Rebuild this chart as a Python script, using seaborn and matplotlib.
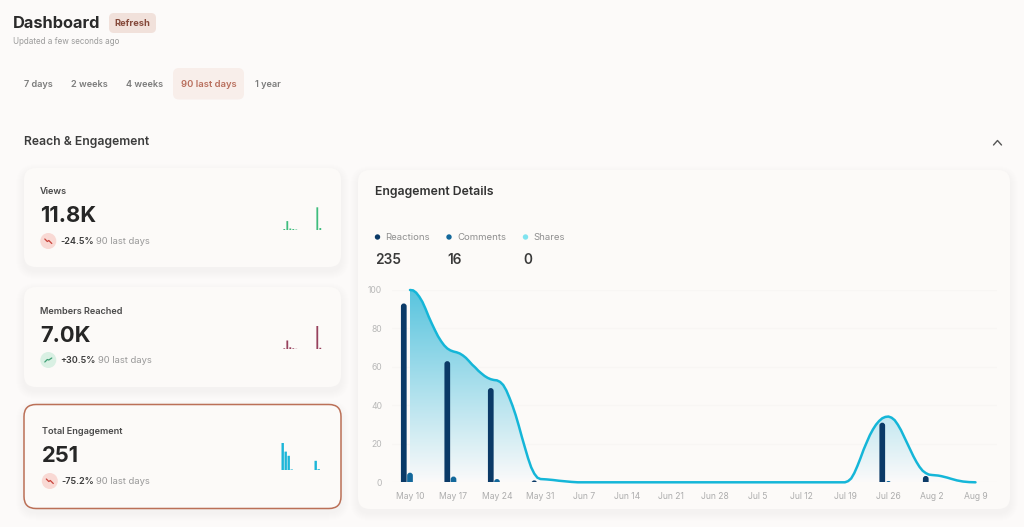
import numpy as np
import pandas as pd
import matplotlib
matplotlib.use('Agg')
import matplotlib.pyplot as plt
import seaborn as sns
from matplotlib.colors import LinearSegmentedColormap
from matplotlib.patches import Circle, FancyBboxPatch

# data
line_days = [0, 0.5, 1, 1.5, 2, 2.5, 3, 3.5, 4, 4.5, 5, 5.5, 6, 6.5, 7, 7.5, 8, 8.5, 9, 9.5, 10, 10.5, 11, 11.5,
             12, 12.5, 13, 13.5, 14, 14.5, 15, 15.5, 16, 16.5, 17, 17.5, 18, 18.5, 19, 19.5, 20, 20.5, 21, 22, 23,
             24, 25, 26, 27, 42, 56, 70, 70.5, 71, 71.5, 72, 72.5, 73, 73.5, 74, 74.5, 75, 75.5, 76, 76.5, 77, 77.5,
             78, 78.5, 79, 79.5, 80, 80.5, 81, 81.5, 82, 82.5, 83, 83.5, 84, 85, 85.5, 86, 86.5, 87, 88, 89, 90, 91]
line_values = [100, 99.8, 98.6, 96.5, 93.8, 90.2, 86.2, 82.6, 79.2, 76, 73.4, 71.2, 69.6, 68.6, 68, 67.6, 67, 66,
               64.7, 63, 61.2, 59.7, 58, 56.6, 55.3, 54.3, 53.6, 53.2, 53, 52.2, 50.6, 47.8, 44, 39.8, 35, 29.5,
               23.6, 18, 12.5, 7.8, 4.5, 2.4, 1.7, 1.5, 1.2, 0.8, 0.5, 0.2, 0, 0, 0, 0, 0.6, 2, 4.8, 8.5, 12.6, 17,
               20.8, 24.5, 27.5, 30, 31.9, 33.3, 34, 34.2, 33.6, 32.3, 30, 27.2, 23.8, 20.4, 17, 13.6, 10.6, 8, 6,
               4.8, 4, 3.8, 3.5, 3.2, 2.8, 2.4, 1.9, 1, 0.4, 0.1, 0]
reaction_days = [-1, 6, 13, 20, 76, 83]
reaction_values = [93, 63, 49, 1, 31, 3.3]
comment_days = [0, 7, 14, 77]
comment_values = [5, 3, 1.7, 0.7]

tick_days = [0, 7, 14, 21, 28, 35, 42, 49, 56, 63, 70, 77, 84, 91]
tick_labels = ['May 10', 'May 17', 'May 24', 'May 31', 'Jun 7', 'Jun 14', 'Jun 21', 'Jun 28',
               'Jul 5', 'Jul 12', 'Jul 19', 'Jul 26', 'Aug 2', 'Aug 9']
y_ticks = [0, 20, 40, 60, 80, 100]

legend_names = ['Reactions', 'Comments', 'Shares']
legend_totals = ['235', '16', '0']

views_weeks = [310, 2800, 470, 310, 155, 0, 0, 0, 0, 0, 0, 7130, 620]
members_weeks = [186, 1620, 370, 186, 90, 0, 0, 0, 0, 0, 0, 4280, 280]
engagement_weeks = [98, 66, 51, 2, 0, 0, 0, 0, 0, 0, 0, 33, 3, 0]

BG = '#fcfaf9'
NAVY = '#0b3a67'
BLUE = '#13689b'
CYAN = '#15b6d8'
W, H = 1024, 527

sns.set_style('white')
plt.rcParams['font.family'] = ['Inter', 'DejaVu Sans']

fig = plt.figure(figsize=(W / 100, H / 100), dpi=100, facecolor=BG)
ui = fig.add_axes([0, 0, 1, 1])
ui.set_xlim(0, W)
ui.set_ylim(H, 0)
ui.axis('off')


def px_axes(left, top, right, bottom):
    a = fig.add_axes([left / W, 1 - bottom / H, (right - left) / W, (bottom - top) / H])
    a.patch.set_alpha(0)
    return a


def label(x, y, s, size, color='#333333', weight='normal', ha='left'):
    ui.text(x, y + 1, s, fontsize=size, color=color, fontweight=weight, ha=ha, va='center', zorder=5)


def box(x0, y0, x1, y1, r, fc, ec='none', lw=0, alpha=None, zorder=2):
    ui.add_patch(FancyBboxPatch((x0, y0), x1 - x0, y1 - y0, boxstyle=f'round,pad=0,rounding_size={r}',
                                fc=fc, ec=ec, lw=lw, alpha=alpha, zorder=zorder))


def card(x0, y0, x1, y1, ec='none', lw=0, shadow='#6f6a66'):
    # soft shadow, a few stacked translucent boxes
    for grow in range(8, 0, -1):
        box(x0 - grow, y0 - grow + 4, x1 + grow, y1 + grow + 4, 12 + grow, shadow, alpha=0.0045, zorder=1)
    box(x0, y0, x1, y1, 12, '#fcfaf8', ec=ec, lw=lw)


# header
label(13, 23, 'Dashboard', 11.8, '#2b2b2b', 'bold')
box(109, 13, 156, 33, 5, '#f1e1db')
label(132.5, 22.5, 'Refresh', 6.7, '#85493a', 'bold', 'center')
label(13, 41, 'Updated a few seconds ago', 5.8, '#9b9b9b')

# period tabs
box(173, 68, 244, 99.5, 6, '#f8eeea')
label(38.5, 83.5, '7 days', 6.6, '#7c7c7c', 'semibold', 'center')
label(89.5, 83.5, '2 weeks', 6.6, '#7c7c7c', 'semibold', 'center')
label(144.5, 83.5, '4 weeks', 6.6, '#7c7c7c', 'semibold', 'center')
label(209, 83.5, '90 last days', 6.8, '#b96f5d', 'semibold', 'center')
label(267.5, 83.5, '1 year', 6.6, '#7c7c7c', 'semibold', 'center')

label(24, 141.5, 'Reach & Engagement', 8.75, '#3c3c3c', 'semibold')
ui.plot([993.5, 997.5, 1001.5], [145, 140.5, 145], color='#555555', lw=1, zorder=3)

# KPI cards
card(24, 168, 341, 267)
card(24, 287, 341, 387)
card(24, 404.5, 341, 508.5, ec='#bb7057', lw=1.1, shadow='#b9694f')
card(358, 170, 1010, 509)

kpis = [
    (40, 191, 215.5, 241, 'Views', '11.8K', '-24.5%', False, 60, 96),
    (40, 310.5, 334.5, 360, 'Members Reached', '7.0K', '+30.5%', True, 60, 98),
    (41.5, 430.5, 455.5, 481, 'Total Engagement', '251', '-75.2%', False, 61, 96),
]
for x, y_name, y_num, y_delta, name, num, delta, up, x_delta, x_note in kpis:
    label(x, y_name, name, 6.6, '#4a4a4a', 'semibold')
    label(x, y_num, num, 15.8, '#262626', 'bold')
    cx = x + 8.3
    ui.add_patch(Circle((cx, y_delta), 8, fc='#d9f0e3' if up else '#f9d9d4', ec='none', zorder=3))
    if up:
        ui.plot([cx - 3.5, cx - 1, cx + 0.5, cx + 3.5], [y_delta + 2, y_delta - 0.5, y_delta, y_delta - 2],
                color='#3f9f74', lw=0.9, zorder=4)
    else:
        ui.plot([cx - 3.5, cx - 1, cx + 0.5, cx + 3.5], [y_delta - 2, y_delta + 0.5, y_delta - 0.5, y_delta + 2.5],
                color='#c8423a', lw=0.9, zorder=4)
    label(x_delta, y_delta - 0.5, delta, 6.5, '#3a3a3a', 'semibold')
    label(x_note, y_delta - 0.5, '90 last days', 6.8, '#999999')


def spark(values, color, rect, width):
    a = px_axes(*rect)
    d = pd.DataFrame({'week': range(len(values)), 'value': values})
    sns.barplot(data=d, x='week', y='value', color=color, width=width, saturation=1, linewidth=0, ax=a)
    for p in a.patches:
        p.set_snap(False)
    a.set_xlim(-0.5, len(values) - 0.5)
    a.set_ylim(0, max(values))
    a.axis('off')
    a.set_zorder(3)


spark(views_weeks, '#3fbd7e', (282.8, 207.3, 321.8, 230), 0.6)
spark(members_weeks, '#97415d', (282.8, 326, 321.8, 349.3), 0.6)
spark(engagement_weeks, '#1cb6d8', (281.2, 442.7, 323.2, 470), 0.8)

# engagement details panel
label(375, 191, 'Engagement Details', 8.8, '#333333', 'semibold')
for x, tx, nx, name, total, c in zip([377.5, 449, 525.5], [385.5, 457.5, 533.5], [375, 447, 523],
                                     legend_names, legend_totals, [NAVY, BLUE, '#7fe3ef']):
    ui.add_patch(Circle((x, 237), 2.7, fc=c, ec='none', zorder=3))
    label(tx, 236.5, name, 6.9, '#8f8f8f')
    label(nx, 258.5, total, 9.8, '#3a3a3a', 'semibold')

day_px = 6.214
ax = px_axes(392, 290, 997, 482.3)
ax.set_zorder(3)

bars = pd.DataFrame({'day': reaction_days + comment_days,
                     'value': reaction_values + comment_values,
                     'series': ['Reactions'] * len(reaction_days) + ['Comments'] * len(comment_days)})
sns.barplot(data=bars, x='day', y='value', hue='series', native_scale=True, dodge=False, width=0.92,
            palette={'Reactions': NAVY, 'Comments': BLUE}, saturation=1, legend=False, ax=ax, zorder=3)

# round the bar tops, bottoms get clipped by the axis
for p in list(ax.patches):
    x0, h, w, c = p.get_x(), p.get_height(), p.get_width(), p.get_facecolor()
    p.remove()
    if h <= 0:
        continue
    ax.add_patch(FancyBboxPatch((x0, -3), w, h + 3, boxstyle=f'round,pad=0,rounding_size={w / 2}',
                                mutation_aspect=day_px / 1.923, fc=c, ec='none', zorder=3))

curve = pd.DataFrame({'day': line_days, 'value': line_values})
fill = ax.fill_between(line_days, 0, line_values, color='none')
cmap = LinearSegmentedColormap.from_list('fade', ['#fbfafa', '#58c4de'])
im = ax.imshow(np.linspace(1, 0, 256)[:, None], extent=[0, 91, 0, 100], aspect='auto', cmap=cmap,
               vmin=0, vmax=1, zorder=1)
im.set_clip_path(fill.get_paths()[0], transform=ax.transData)
sns.lineplot(data=curve, x='day', y='value', color=CYAN, lw=1.8, ax=ax, zorder=4, clip_on=False)

ax.set_xlim(-18 / day_px, 587 / day_px)
ax.set_ylim(0, 100)
ax.set_xticks(tick_days, tick_labels)
ax.set_yticks(y_ticks)
ax.set_xlabel('')
ax.set_ylabel('')
ax.grid(axis='y', color='#f8f6f4', lw=0.8)
ax.set_axisbelow(True)
ax.tick_params(axis='x', length=0, pad=7, labelsize=6.2, labelcolor='#adadad')
ax.tick_params(axis='y', length=0, pad=7.2, labelsize=6.2, labelcolor='#b8b8b8')
for side in ax.spines.values():
    side.set_visible(False)

fig.savefig('out.png', dpi=100, facecolor=BG)
